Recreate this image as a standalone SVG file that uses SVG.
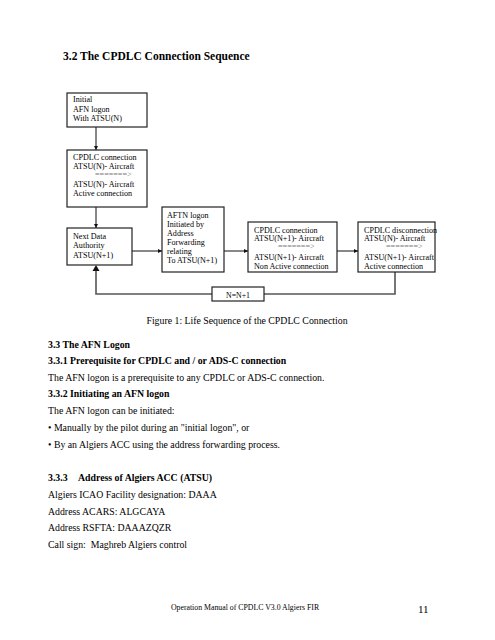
<svg xmlns="http://www.w3.org/2000/svg" width="495" height="640" viewBox="0 0 495 640">
<style>
text{font-family:"Liberation Serif","Times New Roman",serif;fill:#000}
.body{font-size:9.8px}
.bold{font-size:9.8px;font-weight:bold}
.box rect{fill:#fff;stroke:#222;stroke-width:1.2}
.box text{font-size:8.1px}
.arr{font-size:6px;fill:#777}
.conn line,.conn polyline{stroke:#111;stroke-width:1;fill:none}
.fb{stroke:#555!important;stroke-width:1.6!important}
</style>
<defs>
<marker id="ah" viewBox="0 0 8 8" refX="8" refY="4" markerWidth="4.5" markerHeight="4.5" orient="auto" markerUnits="userSpaceOnUse">
<path d="M0,0 L8,4 L0,8 z" fill="#111"/>
</marker>
</defs>
<rect width="495" height="640" fill="#fff"/>
<text x="63" y="60" style="font-size:11.5px;font-weight:bold">3.2 The CPDLC Connection Sequence</text>

<g class="conn">
<line x1="96" y1="127" x2="96" y2="150" marker-end="url(#ah)"/>
<line x1="96" y1="207" x2="96" y2="228" marker-end="url(#ah)"/>
<line x1="132" y1="251" x2="162" y2="251" marker-end="url(#ah)"/>
<line x1="224" y1="251" x2="248" y2="251" marker-end="url(#ah)"/>
<line x1="337" y1="251" x2="358" y2="251" marker-end="url(#ah)"/>
<polyline class="fb" points="395,272 395,294 264,294"/>
<polyline class="fb" points="212,294 96,294 96,267"/>
<path d="M92.5,271 L96,265 L99.5,271 z" fill="#111"/>
</g>

<g id="n1" class="box">
<rect x="67" y="93" width="80" height="34"/>
<text x="73" y="102">Initial</text>
<text x="73" y="111.5">AFN logon</text>
<text x="73" y="121">With ATSU(N)</text>
</g>
<g id="n2" class="box">
<rect x="67" y="150" width="80" height="57"/>
<text x="73" y="160">CPDLC connection</text>
<text x="73" y="169">ATSU(N)- Aircraft</text>
<text x="95" y="177" class="arr">=======&gt;</text>
<text x="73" y="187">ATSU(N)- Aircraft</text>
<text x="73" y="196">Active connection</text>
</g>
<g id="n3" class="box">
<rect x="67" y="228" width="65" height="37"/>
<text x="73" y="238.5">Next Data</text>
<text x="73" y="248">Authority</text>
<text x="73" y="257.5">ATSU(N+1)</text>
</g>
<g id="n4" class="box">
<rect x="162" y="207" width="62" height="65"/>
<text x="167" y="218">AFTN logon</text>
<text x="167" y="227">Initiated by</text>
<text x="167" y="236">Address</text>
<text x="167" y="245">Forwarding</text>
<text x="167" y="254">relating</text>
<text x="167" y="263">To ATSU(N+1)</text>
</g>
<g id="n5" class="box">
<rect x="248" y="222" width="89" height="50"/>
<text x="254" y="232.5">CPDLC connection</text>
<text x="254" y="241">ATSU(N+1)- Aircraft</text>
<text x="278" y="249" class="arr">=======&gt;</text>
<text x="254" y="259.5">ATSU(N+1)- Aircraft</text>
<text x="254" y="269">Non Active connection</text>
</g>
<g id="n6" class="box">
<rect x="358" y="222" width="77" height="50"/>
<text x="364" y="232.5">CPDLC disconnection</text>
<text x="364" y="241">ATSU(N)- Aircraft</text>
<text x="386" y="249" class="arr">=======&gt;</text>
<text x="364" y="259.5">ATSU(N+1)- Aircraft</text>
<text x="364" y="269">Active connection</text>
</g>
<g id="n7" class="box">
<rect x="212" y="287" width="52" height="14"/>
<text x="238" y="297.5" text-anchor="middle" style="font-size:7.8px">N=N+1</text>
</g>

<text x="247" y="323.5" text-anchor="middle" class="body">Figure 1: Life Sequence of the CPDLC Connection</text>

<text x="48" y="347.5" class="bold">3.3 The AFN Logon</text>
<text x="48" y="364" class="bold">3.3.1 Prerequisite for CPDLC and / or ADS-C connection</text>
<text x="48" y="380.5" class="body">The AFN logon is a prerequisite to any CPDLC or ADS-C connection.</text>
<text x="48" y="397" class="bold">3.3.2 Initiating an AFN logon</text>
<text x="48" y="413.5" class="body">The AFN logon can be initiated:</text>
<text x="48" y="430.5" class="body">• Manually by the pilot during an "initial logon", or</text>
<text x="48" y="447.5" class="body">• By an Algiers ACC using the address forwarding process.</text>
<text x="48" y="481" class="bold">3.3.3<tspan x="78">Address of Algiers ACC (ATSU)</tspan></text>
<text x="48" y="497.5" class="body">Algiers ICAO Facility designation: DAAA</text>
<text x="48" y="514.5" class="body">Address ACARS: ALGCAYA</text>
<text x="48" y="531" class="body">Address RSFTA: DAAAZQZR</text>
<text x="48" y="547.5" class="body" xml:space="preserve">Call sign:  Maghreb Algiers control</text>

<text x="245" y="610" text-anchor="middle" style="font-size:7.8px">Operation Manual of CPDLC V3.0 Algiers FIR</text>
<text x="418" y="612.5" style="font-size:11px">11</text>
</svg>
